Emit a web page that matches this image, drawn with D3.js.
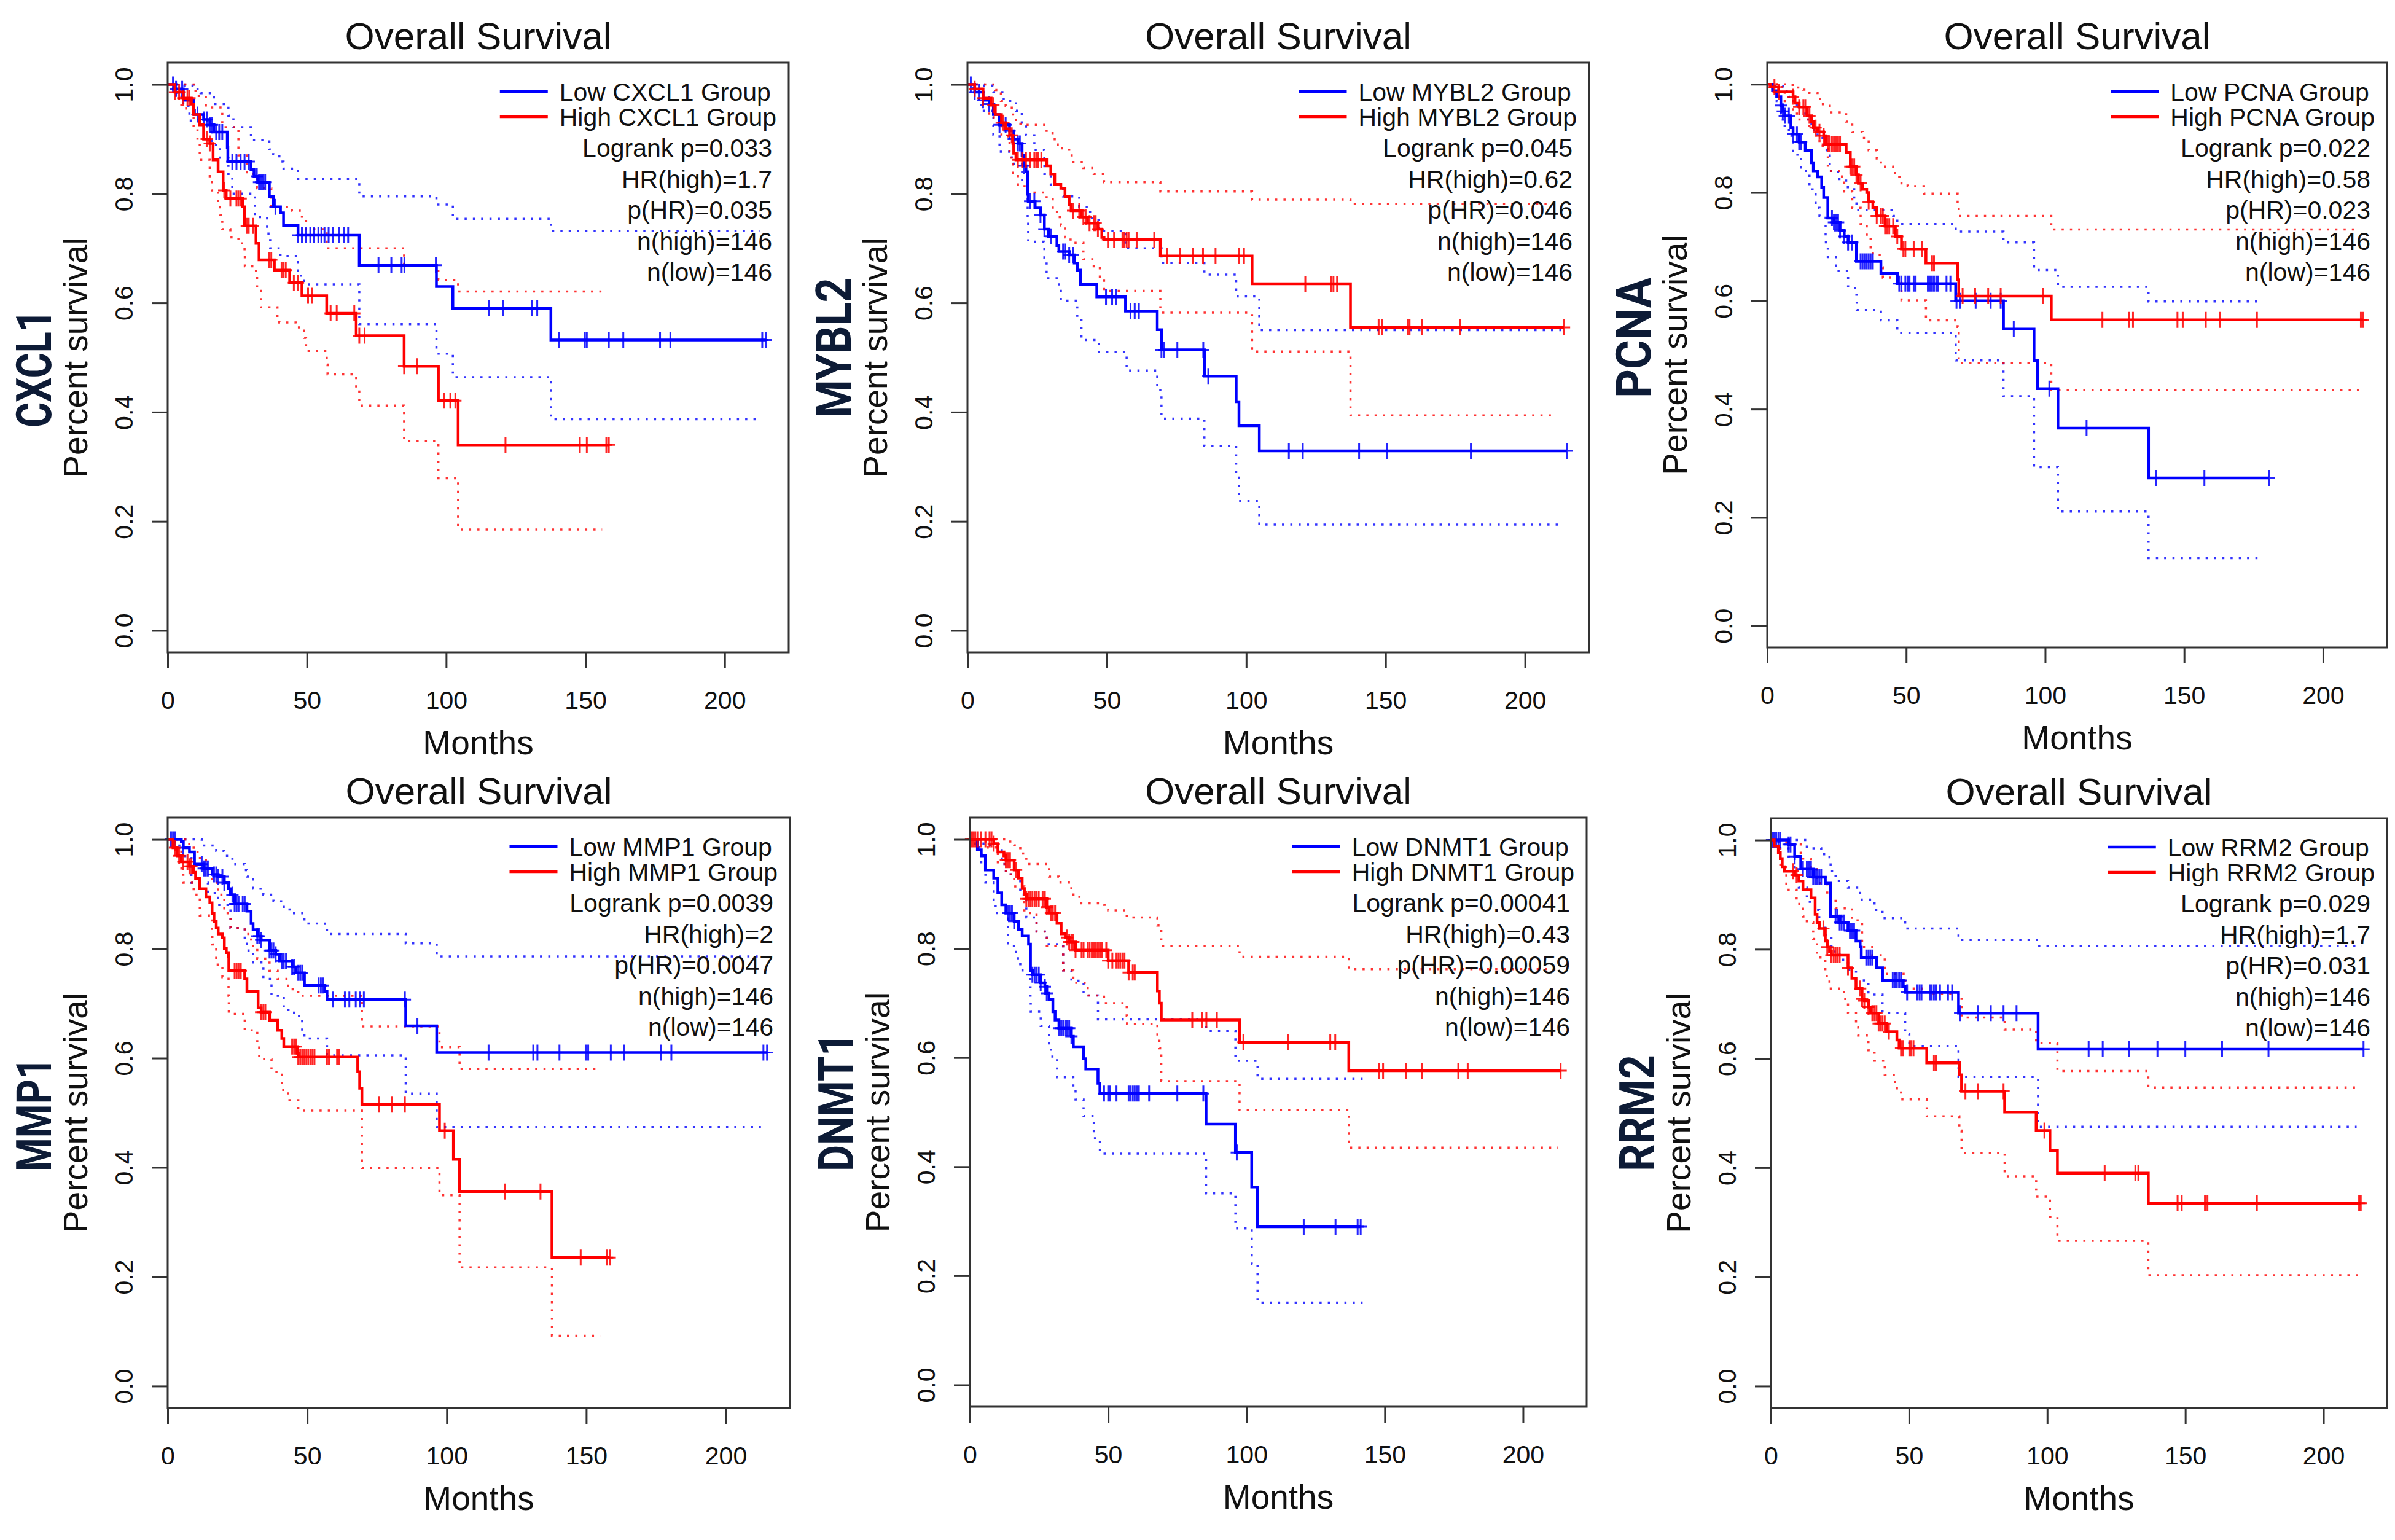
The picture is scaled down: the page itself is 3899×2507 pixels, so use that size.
<!DOCTYPE html>
<html>
  <head>
    <title>Overall Survival</title>
    <meta charset="utf-8">
    <style>
      body { margin: 0; background-color: #fff; }
      svg text { font-family: "Liberation Sans", Arial, Helvetica, sans-serif; fill: #111; }
      .gene { font-family: Roboto, "Liberation Sans", sans-serif; font-weight: 700; fill: #0d1b36; }
    </style>
    <script src="https://cdn.jsdelivr.net/npm/d3@7"></script>
  </head>
  <body>
    <svg id="chart" width="3899" height="2507"></svg>
    <script>
      // axis ticks
      var monthTicks = [0, 50, 100, 150, 200];
      var survivalTicks = [0, 0.2, 0.4, 0.6, 0.8, 1.0];

      // genes and stats text
      var genes = ["CXCL1", "MYBL2", "PCNA", "MMP1", "DNMT1", "RRM2"];
      var logrankP = ["0.033", "0.045", "0.022", "0.0039", "0.00041", "0.029"];
      var hrHigh = ["1.7", "0.62", "0.58", "2", "0.43", "1.7"];
      var pHR = ["0.035", "0.046", "0.023", "0.0047", "0.00059", "0.031"];
      var nHigh = [146, 146, 146, 146, 146, 146];
      var nLow = [146, 146, 146, 146, 146, 146];

      // [month, survival] steps, censor months, CI upper/lower steps
      var cxcl1LowSurv = [[0,1],[2.5,0.992],[5.6,0.971],[9.3,0.952],[9.6,0.945],[12.9,0.936],[15.1,0.926],[16.6,0.913],[21.4,0.885],[21.6,0.859],[29.9,0.844],[31,0.832],[32.5,0.821],[36.5,0.795],[37.9,0.776],[40.5,0.765],[41.6,0.742],[46.8,0.724],[68.8,0.669],[96.5,0.63],[102.4,0.59],[137.6,0.532]];
      var cxcl1LowCens = [1.9,3,5.2,10.7,12.9,14,15.1,15.9,17.4,18.5,19.6,23.2,24.7,26.2,27.6,29.1,32,32.8,33.5,34.3,35,38.7,46.8,48.2,49.7,51.2,52.6,54.1,55.2,56.3,57.8,59.3,61.5,63.3,64.8,75.7,80.3,84,85,96.3,115.3,120.4,130.9,132.7,140.4,149.8,150.5,158.4,163.6,176.8,180.5,213.5,214.8];
      var cxcl1LowUp = [[0,1],[6,0.998],[9.3,0.992],[11.8,0.984],[16.6,0.964],[21.8,0.943],[23.6,0.922],[29.9,0.898],[36.5,0.881],[37.9,0.872],[40.1,0.859],[41.6,0.846],[46.8,0.827],[68.8,0.795],[96.5,0.78],[102.4,0.754],[137.6,0.732],[212.6,0.732]];
      var cxcl1LowLo = [[0,1],[3.4,0.982],[5.6,0.96],[7.8,0.934],[15.9,0.889],[18.8,0.866],[21.8,0.836],[23.2,0.8],[31.3,0.757],[35.7,0.727],[36.8,0.7],[40.5,0.686],[46.8,0.65],[49,0.634],[68.8,0.561],[96.5,0.507],[102.4,0.464],[137.6,0.387],[212.6,0.387]];
      var cxcl1HighSurv = [[0,1],[2.6,0.986],[5.6,0.975],[8.5,0.964],[9.3,0.945],[11.5,0.926],[12.9,0.9],[15.1,0.892],[16.3,0.862],[18.1,0.84],[19.9,0.806],[21,0.791],[26.9,0.776],[27.6,0.741],[31.7,0.709],[32.8,0.679],[38.3,0.66],[43.8,0.637],[48.2,0.613],[57.1,0.581],[67.7,0.54],[84.9,0.484],[97.2,0.421],[104.3,0.34]];
      var cxcl1HighCens = [2.6,4.1,5.6,7.1,7.8,14,15.1,20.3,22.5,24.7,25.4,26.2,28.4,29.1,30.6,36.5,37.2,40.9,41.6,42.4,45.3,46.8,50.4,51.9,58.5,60.7,67,68.8,70.7,84.9,89.5,99.3,101.5,103.3,121.3,148,150.5,157.5,158.4];
      var cxcl1HighUp = [[0,1],[5.6,1],[10,0.979],[13.7,0.958],[19.6,0.922],[25.4,0.87],[28.4,0.836],[32,0.81],[37.2,0.776],[44.6,0.769],[48.2,0.75],[49.7,0.735],[57.1,0.7],[84.9,0.669],[97.2,0.642],[104.3,0.621],[156,0.621]];
      var cxcl1HighLo = [[0,1],[1.9,0.99],[4.9,0.956],[9.3,0.919],[10.7,0.896],[11.5,0.862],[15.1,0.832],[15.9,0.806],[18.1,0.78],[18.8,0.761],[19.6,0.735],[22.5,0.72],[25.4,0.709],[27.6,0.69],[27.7,0.667],[31.7,0.656],[32.1,0.626],[33.5,0.592],[39.4,0.574],[40.1,0.564],[46,0.555],[49,0.536],[49.7,0.512],[57.1,0.487],[57.4,0.469],[67.7,0.44],[68.8,0.412],[84.9,0.347],[97.2,0.279],[104.3,0.185],[156,0.185]];

      var mybl2LowSurv = [[0,1],[2.6,0.986],[5.6,0.971],[7.8,0.964],[9.3,0.945],[11.5,0.926],[15.1,0.915],[16.6,0.9],[18.1,0.892],[19.6,0.87],[20.3,0.851],[21,0.84],[21.6,0.799],[21.8,0.786],[24.3,0.774],[26.2,0.761],[27.6,0.735],[29.1,0.722],[32.1,0.705],[32.8,0.694],[36.5,0.688],[38.3,0.673],[39.4,0.66],[40.5,0.634],[46.4,0.611],[56.7,0.585],[68.1,0.551],[69.6,0.514],[85,0.466],[96.4,0.419],[97.4,0.375],[104.7,0.329]];
      var mybl2LowCens = [1.2,2.6,4.1,5.6,7.8,11.5,13.7,15.1,16.6,18.1,18.8,20.3,22.5,24,26.2,27.6,29.9,34.3,35,36.5,37.9,49.7,51.9,53.4,58.5,60,61.5,69.6,70.6,75.3,84.6,86.4,115.3,120.3,140.5,150.6,180.6,215];
      var mybl2LowUp = [[0,1],[6,0.998],[9.3,0.986],[13,0.97],[17.4,0.952],[19.5,0.93],[21,0.907],[24,0.88],[27.6,0.836],[29.9,0.817],[34.3,0.795],[40.1,0.776],[44,0.755],[47,0.732],[56.7,0.7],[69.6,0.673],[85,0.652],[96.4,0.612],[104.7,0.55],[213,0.55]];
      var mybl2LowLo = [[0,1],[2,0.99],[4.1,0.971],[4.9,0.952],[9.3,0.907],[11.5,0.877],[15.9,0.855],[19.6,0.825],[21.6,0.757],[21.8,0.712],[27.6,0.682],[28.4,0.645],[32.8,0.622],[33.5,0.604],[39.4,0.574],[40.9,0.532],[47.1,0.51],[57.1,0.476],[68.1,0.44],[69.6,0.388],[85,0.338],[96.4,0.28],[97.4,0.237],[104.7,0.194],[213,0.194]];
      var mybl2HighSurv = [[0,1],[2.6,0.992],[5.6,0.975],[8.5,0.962],[10,0.945],[12.2,0.93],[13.7,0.919],[15.1,0.907],[16.3,0.892],[16.6,0.874],[17.4,0.862],[28.4,0.851],[29.9,0.836],[31.3,0.817],[33.5,0.81],[35,0.795],[36.5,0.78],[37.2,0.769],[40.9,0.757],[43.1,0.746],[46.8,0.735],[48.2,0.72],[49,0.716],[69.2,0.686],[102.1,0.635],[137.4,0.555]];
      var mybl2HighCens = [2.6,5.6,9.3,12.9,15.9,18.1,19.6,21,22.5,24,24.7,25.4,26.5,37.9,40.1,41.6,42.4,43.8,45.3,46,46.8,50.4,52.6,55.6,56.3,57.1,57.8,60.7,67,71.7,76.3,80.8,84.5,89,97.3,99.2,121.2,130.4,131.3,132.6,147.5,148.8,158,158.6,163.1,176.7,214];
      var mybl2HighUp = [[0,1],[8,1],[10,0.99],[12,0.97],[13.7,0.96],[15.9,0.945],[17.4,0.935],[19,0.926],[28.4,0.911],[31.3,0.89],[33.5,0.883],[36.5,0.87],[38,0.858],[41.6,0.847],[45.3,0.836],[49,0.821],[69.2,0.804],[102.1,0.789],[137.4,0.781],[211,0.781]];
      var mybl2HighLo = [[0,1],[2.6,0.986],[5.6,0.971],[7.8,0.94],[10,0.93],[12.2,0.905],[15.1,0.866],[16.3,0.836],[18.1,0.814],[21.8,0.802],[28.4,0.79],[30.6,0.772],[32.1,0.757],[33.5,0.742],[35,0.72],[37,0.71],[41.6,0.68],[45.3,0.667],[47.5,0.645],[49,0.622],[69.2,0.582],[102.1,0.511],[137.4,0.394],[211,0.394]];

      var pcnaLowSurv = [[0,1],[1.9,0.988],[3.4,0.977],[4.9,0.961],[5.6,0.95],[6.3,0.942],[8.5,0.92],[9.3,0.908],[11.5,0.893],[13.7,0.878],[15.9,0.855],[16.6,0.84],[18.1,0.829],[19.6,0.81],[20.3,0.791],[21.8,0.753],[24,0.745],[26.2,0.73],[27.7,0.719],[29.1,0.708],[32.1,0.673],[40.9,0.651],[46.8,0.632],[67.8,0.6],[85,0.548],[96,0.49],[97.3,0.438],[104.6,0.365],[137.2,0.273]];
      var pcnaLowCens = [4.9,5.6,6.3,7.8,9.3,10.7,11.5,12.2,23.3,24,24.7,25.5,26.2,27.7,29.1,30.6,33.6,34.3,35,35.8,36.5,37.2,38,47.5,48.3,49.7,50.5,51.2,52.7,53.4,57.8,58.6,59.3,60,60.8,61.5,64.5,65.9,68.1,69.5,75,80.4,84,88.7,101.5,114.9,140,157.3,180.5];
      var pcnaLowUp = [[0,1],[2.6,0.997],[5.6,0.988],[7.8,0.977],[9.3,0.969],[10.7,0.958],[13.7,0.935],[15.9,0.916],[18.1,0.901],[20.3,0.878],[22.5,0.84],[25.5,0.825],[28.4,0.81],[31.3,0.78],[32.1,0.768],[45.3,0.757],[46.8,0.742],[67.8,0.728],[85,0.708],[96,0.657],[104.6,0.626],[137.2,0.599],[178,0.599]];
      var pcnaLowLo = [[0,1],[1.9,0.984],[3.4,0.969],[4.9,0.946],[5.6,0.923],[7.8,0.905],[9.3,0.87],[12.2,0.84],[15.2,0.806],[17.4,0.772],[18.8,0.757],[21,0.719],[21.1,0.704],[21.8,0.681],[24.7,0.655],[29.1,0.624],[32.1,0.609],[32.2,0.583],[40.9,0.564],[46.8,0.541],[67.8,0.49],[85,0.424],[96,0.293],[104.6,0.211],[137.2,0.125],[178,0.125]];
      var pcnaHighSurv = [[0,1],[1.2,0.995],[4.1,0.986],[9.3,0.977],[10,0.965],[11.5,0.958],[14.4,0.942],[15.9,0.931],[16.6,0.92],[18.1,0.912],[20.3,0.905],[21,0.889],[28.4,0.874],[29.9,0.848],[32.1,0.833],[32.8,0.817],[34.3,0.806],[35.8,0.8],[36.5,0.783],[38,0.772],[39.4,0.757],[42.4,0.738],[46.1,0.719],[48.3,0.696],[57.1,0.67],[68.5,0.639],[68.9,0.609],[102.2,0.565]];
      var pcnaHighCens = [2.6,4.1,9.3,11.5,13,13.7,15.2,17.4,18.8,20.3,21.8,22.5,23.3,24,24.7,25.5,26.2,29.9,30.6,31.3,32.1,33.6,36.5,39.4,40.9,41.6,42.4,43.1,43.9,45.3,46.8,49,49.7,52.7,55.6,59.3,60,70.3,74.8,79.5,84,99.3,120.6,130.2,131.6,147.6,149.5,157.8,162.9,176.2,213.6,214.3];
      var pcnaHighUp = [[0,1],[8.5,0.999],[10.7,0.994],[13,0.99],[15.2,0.984],[18.1,0.973],[19.6,0.963],[22.5,0.948],[28.4,0.931],[30.6,0.912],[34.3,0.901],[36.5,0.878],[39.4,0.863],[40.9,0.848],[45.3,0.836],[47.5,0.829],[48.3,0.817],[50.5,0.812],[56.4,0.798],[68.5,0.772],[68.9,0.757],[102.2,0.732],[213,0.732]];
      var pcnaHighLo = [[0,1],[3.4,0.995],[6.3,0.969],[9.3,0.95],[10.7,0.935],[15.2,0.916],[17.4,0.905],[18.8,0.886],[21.8,0.84],[26.9,0.821],[27.7,0.802],[30.6,0.772],[33.6,0.742],[35.8,0.719],[37.2,0.692],[38,0.685],[40.9,0.662],[41.6,0.643],[48.3,0.601],[57.1,0.564],[68.5,0.552],[68.9,0.485],[102.2,0.435],[213,0.435]];

      var mmp1LowSurv = [[0,1],[4.9,0.996],[5.6,0.985],[7.8,0.977],[9.6,0.955],[12.9,0.947],[15.9,0.936],[18.1,0.932],[20.3,0.921],[21.8,0.91],[22.5,0.899],[24,0.882],[28.4,0.869],[29.9,0.846],[30.6,0.835],[32.1,0.823],[33.5,0.816],[36.5,0.797],[38.7,0.79],[40.1,0.778],[44.6,0.767],[46,0.756],[49,0.733],[56.3,0.722],[57.1,0.707],[85.3,0.659],[96.4,0.61]];
      var mmp1LowCens = [1.2,1.9,2.6,5.6,12.2,12.9,13.7,14.4,16.6,17.4,18.1,19.6,20.3,23.2,24,24.7,25.4,26.9,27.6,32.1,32.8,33.5,36.5,37.2,37.9,38.7,40.9,41.6,42.4,44.6,45.3,46.8,47.5,48.2,54.1,54.9,55.6,59.2,63.5,65.1,67.4,68.8,70.3,85,89.5,115,131,132.5,140.4,149.8,150.7,158.8,163.6,176.8,180.5,213.5,214.8];
      var mmp1LowUp = [[0,1],[9.3,1],[12.2,0.989],[17.4,0.979],[20.3,0.97],[23.2,0.955],[27.6,0.944],[28.4,0.932],[30.6,0.91],[34.3,0.899],[37.9,0.887],[41.6,0.872],[45.3,0.865],[49,0.846],[56.3,0.842],[57.1,0.827],[85.3,0.81],[96.4,0.786],[212.6,0.786]];
      var mmp1LowLo = [[0,1],[2.6,0.989],[6.3,0.966],[8.5,0.921],[14.4,0.902],[18.1,0.88],[22.5,0.838],[27.6,0.812],[28.4,0.797],[30.6,0.775],[34.3,0.745],[37.2,0.714],[41.6,0.688],[45.3,0.677],[48.2,0.65],[49,0.636],[57.1,0.605],[85.3,0.535],[96.4,0.474],[212.6,0.474]];
      var mmp1HighSurv = [[0,1],[1.9,0.985],[3.4,0.97],[4.9,0.959],[7.8,0.951],[9.3,0.94],[10,0.929],[11.5,0.91],[13.7,0.895],[15.1,0.884],[15.9,0.865],[16.6,0.85],[17.4,0.838],[18.1,0.827],[19.6,0.82],[20.3,0.801],[21,0.793],[21.8,0.786],[21.9,0.76],[27.6,0.745],[28.4,0.722],[32.4,0.692],[33.5,0.684],[36.5,0.669],[39.4,0.651],[40.9,0.636],[41.6,0.621],[46.4,0.609],[46.8,0.602],[68.1,0.575],[68.8,0.545],[69.6,0.515],[97.4,0.467],[102.4,0.415],[104.6,0.356],[137.7,0.235]];
      var mmp1HighCens = [2.6,4.1,5.6,7.1,7.8,8.5,24,24.7,25.4,26.2,33.5,34.3,35,44.6,45.3,46,46.8,47.5,48.2,49,49.7,50.4,51.2,51.9,52.6,57.1,57.8,60.7,61.5,75.7,80.3,85,99.3,120.8,133.6,148,157.5,158.4];
      var mmp1HighUp = [[0,1],[4.1,1],[6.3,0.992],[9.3,0.981],[10.7,0.966],[13.7,0.944],[15.9,0.921],[18.1,0.899],[20.3,0.865],[22.5,0.838],[27.6,0.827],[29.9,0.805],[32.1,0.782],[36.5,0.76],[39.4,0.745],[43.1,0.726],[46.8,0.714],[69.6,0.658],[97.4,0.62],[104.6,0.58],[155,0.58]];
      var mmp1HighLo = [[0,1],[2.6,0.981],[4.9,0.947],[5.6,0.921],[9.3,0.899],[11.5,0.861],[15.9,0.827],[16,0.808],[17.4,0.771],[19.6,0.748],[21.8,0.714],[21.9,0.681],[27.6,0.651],[32.1,0.624],[32.8,0.598],[37.2,0.575],[40.9,0.542],[43.1,0.523],[46.8,0.504],[69.6,0.399],[97.4,0.349],[104.6,0.217],[137.7,0.092],[155,0.092]];

      var dnmt1LowSurv = [[0,1],[2.7,0.981],[4.1,0.97],[5.6,0.944],[8.6,0.929],[10.1,0.902],[11.5,0.88],[13,0.865],[16,0.85],[17.5,0.835],[18.9,0.823],[21.2,0.808],[21.9,0.76],[22.6,0.752],[25.6,0.737],[27.1,0.73],[27.8,0.718],[28.6,0.707],[30,0.684],[30.8,0.669],[32.2,0.654],[36.7,0.639],[37.4,0.62],[41.1,0.598],[41.9,0.579],[46.3,0.553],[47,0.534],[85.4,0.478],[96,0.426],[101.9,0.363],[104,0.29]];
      var dnmt1LowCens = [13.8,14.5,15.2,16,22.6,23.4,24.1,24.9,25.6,27.1,27.8,32.2,33,33.7,34.5,35.2,35.9,36.7,48.5,50,50.7,53,57.4,58.1,58.9,59.6,60.4,61.1,64.8,75,84.4,96.5,120.7,132.2,140.2,141.3];
      var dnmt1LowUp = [[0,1],[4.9,0.989],[11.5,0.955],[13,0.936],[18.2,0.899],[20.4,0.857],[24.1,0.831],[27.1,0.82],[27.8,0.808],[33.7,0.76],[36.7,0.741],[41.1,0.714],[46.3,0.67],[85.4,0.649],[96,0.594],[104,0.561],[142,0.561]];
      var dnmt1LowLo = [[0,1],[1.9,0.985],[4.1,0.951],[5.6,0.921],[8.6,0.887],[9.3,0.865],[13.8,0.805],[16.7,0.782],[18.2,0.76],[21.9,0.707],[22,0.684],[25.6,0.658],[28.6,0.624],[29.3,0.602],[31.5,0.564],[37.4,0.542],[38.2,0.523],[41.1,0.493],[44.8,0.452],[47,0.424],[85.4,0.351],[96,0.287],[101.9,0.222],[104,0.151],[142,0.151]];
      var dnmt1HighSurv = [[0,1],[8.6,0.992],[10.1,0.977],[12.3,0.97],[13,0.962],[16,0.944],[17.5,0.929],[18.9,0.91],[19.7,0.899],[20.4,0.891],[27.8,0.876],[28.6,0.865],[31.5,0.846],[33,0.827],[34.5,0.82],[35.9,0.812],[38.2,0.797],[50,0.778],[57.4,0.756],[67.8,0.722],[68.5,0.7],[69.2,0.669],[97.5,0.628],[137,0.576]];
      var dnmt1HighCens = [0.4,1.2,1.9,2.7,4.1,5.6,7.1,7.8,8.6,13,13.8,14.5,16.7,20.4,21.2,21.9,22.6,23.4,24.1,24.9,26.3,27.1,27.8,29.3,30,30.8,35.2,35.9,36.7,37.4,38.2,40.4,41.1,42.6,43.3,44.1,44.8,45.6,46.3,47,47.8,49.3,50,51.5,53,53.7,54.4,55.2,55.9,57.4,58.9,59.6,80.4,84,85.5,89.3,98.9,115,130.3,132.1,147.9,149.4,157.7,163.4,176.6,180,213.6];
      var dnmt1HighUp = [[0,1],[13.8,0.996],[16,0.989],[18.2,0.974],[20.4,0.955],[28.6,0.932],[32.2,0.921],[36.7,0.899],[39.6,0.883],[48.5,0.88],[50,0.87],[56.7,0.857],[67.8,0.842],[69.2,0.805],[97.5,0.785],[137,0.762],[212.6,0.762]];
      var dnmt1HighLo = [[0,1],[1.2,0.996],[5.6,0.985],[10.1,0.955],[13,0.936],[16,0.914],[19.7,0.865],[24.1,0.831],[27.8,0.805],[33.7,0.76],[37.4,0.737],[42.6,0.714],[48.5,0.7],[56.7,0.677],[56.8,0.662],[67.8,0.639],[68.5,0.617],[69.2,0.557],[97.5,0.504],[137,0.435],[212.6,0.435]];

      var rrm2LowSurv = [[0,1],[6.4,0.992],[8.6,0.97],[10.8,0.947],[15.3,0.932],[19.7,0.921],[21.6,0.86],[24.9,0.849],[27.9,0.834],[30.8,0.815],[32.3,0.804],[32.7,0.785],[38.2,0.766],[40.4,0.743],[47.9,0.732],[48.6,0.721],[67.9,0.683],[96.7,0.617]];
      var rrm2LowCens = [0.4,1.2,1.9,2.7,3.4,6.4,7.1,8.6,11.6,13,13.8,14.5,15.3,16,16.7,17.5,18.2,23.4,24.1,24.9,25.6,26.4,28.6,29.3,30.1,34.5,35.3,36,36.7,44.1,44.9,45.6,46.4,47.1,49.3,53,53.8,54.5,57.5,58.2,59,59.7,61.2,64.1,65.6,68.5,75,79.6,84.2,88.9,115,120.1,129.7,139.9,150,163.3,180.1,214.5];
      var rrm2LowUp = [[0,1],[7.9,1],[13,0.985],[18.2,0.974],[21.2,0.958],[21.6,0.943],[23.4,0.925],[27.9,0.913],[32.3,0.891],[37.5,0.872],[40.4,0.857],[47.9,0.849],[48.6,0.838],[67.9,0.817],[96.7,0.806],[213.8,0.806]];
      var rrm2LowLo = [[0,1],[2.7,0.985],[6.4,0.966],[8.6,0.936],[10.1,0.913],[13,0.887],[16,0.872],[17.5,0.845],[19.7,0.826],[21.9,0.796],[24.9,0.781],[27.9,0.762],[30.8,0.743],[35.3,0.717],[40.4,0.683],[48.6,0.645],[50.1,0.623],[67.9,0.566],[96.7,0.475],[212,0.475]];
      var rrm2HighSurv = [[0,1],[1.2,0.989],[2.7,0.977],[3.4,0.966],[4.1,0.951],[4.9,0.943],[8.6,0.936],[10.1,0.925],[11.6,0.909],[14.5,0.894],[16,0.864],[16.7,0.849],[17.5,0.838],[19.7,0.815],[20.4,0.804],[21.2,0.796],[21.9,0.789],[27.9,0.766],[29.3,0.747],[30.8,0.728],[33,0.709],[33.8,0.706],[35.3,0.694],[36,0.683],[39,0.664],[41.9,0.649],[45.6,0.634],[46.4,0.619],[56.4,0.592],[68.2,0.57],[69,0.54],[84.6,0.502],[96,0.468],[101,0.431],[103.7,0.39],[136.6,0.335]];
      var rrm2HighCens = [7.9,9.3,19,20.4,21.9,22.7,23.4,24.1,24.9,27.9,32.3,33,33.8,35.3,36.7,37.5,38.2,39,39.7,40.4,41.2,42.7,47.1,47.9,50.1,50.8,51.6,59,59.7,70.4,75,84.2,99,120.8,131.9,133,147.2,148.7,157.1,158,175.9,212.9,213.5];
      var rrm2HighUp = [[0,1],[2.7,1],[5.6,0.992],[10.8,0.966],[14.5,0.947],[16.7,0.921],[20.4,0.894],[23.4,0.875],[29.3,0.853],[33,0.804],[36.7,0.789],[41.2,0.755],[48.6,0.728],[56.4,0.719],[69,0.675],[84.6,0.653],[96,0.628],[103.7,0.577],[136.6,0.547],[212.6,0.547]];
      var rrm2HighLo = [[0,1],[1.2,0.985],[3.4,0.955],[5.6,0.909],[9.3,0.883],[11.6,0.86],[13,0.849],[15.3,0.819],[16.7,0.785],[19.7,0.751],[21.2,0.728],[26.4,0.709],[27.9,0.683],[30.8,0.657],[31.6,0.642],[35.3,0.615],[37.5,0.596],[41.2,0.57],[44.9,0.555],[45.6,0.543],[47.1,0.525],[56.4,0.494],[68.2,0.468],[69,0.427],[84.6,0.384],[96,0.347],[101,0.31],[103.7,0.266],[136.6,0.203],[213,0.203]];

      // per-gene table: [low surv, low censor, low up, low lo, high surv, high censor, high up, high lo]
      var curves = [
        [cxcl1LowSurv, cxcl1LowCens, cxcl1LowUp, cxcl1LowLo, cxcl1HighSurv, cxcl1HighCens, cxcl1HighUp, cxcl1HighLo],
        [mybl2LowSurv, mybl2LowCens, mybl2LowUp, mybl2LowLo, mybl2HighSurv, mybl2HighCens, mybl2HighUp, mybl2HighLo],
        [pcnaLowSurv, pcnaLowCens, pcnaLowUp, pcnaLowLo, pcnaHighSurv, pcnaHighCens, pcnaHighUp, pcnaHighLo],
        [mmp1LowSurv, mmp1LowCens, mmp1LowUp, mmp1LowLo, mmp1HighSurv, mmp1HighCens, mmp1HighUp, mmp1HighLo],
        [dnmt1LowSurv, dnmt1LowCens, dnmt1LowUp, dnmt1LowLo, dnmt1HighSurv, dnmt1HighCens, dnmt1HighUp, dnmt1HighLo],
        [rrm2LowSurv, rrm2LowCens, rrm2LowUp, rrm2LowLo, rrm2HighSurv, rrm2HighCens, rrm2HighUp, rrm2HighLo]
      ];

      // layout of each plot box: left, top, width, height; gene label bottom and length
      var boxes = [
        [273, 102, 1011, 960], [1575, 102, 1012, 960], [2877, 102, 1009, 952],
        [273, 1331, 1013, 961], [1579, 1331, 1004, 959], [2883, 1332, 1003, 960]
      ];
      var labelBottom = [696, 680, 648, 1907, 1907, 1907];
      var labelLength = [192, 228, 196, 186, 226, 190];

      var BLUE = "#0000ff", RED = "#ff0000", INK = "#333";
      var svg = d3.select("#chart");

      function survAt(steps, t) {
        var s = steps[0][1];
        for (var k = 0; k < steps.length; k++) { if (steps[k][0] <= t) s = steps[k][1]; else break; }
        return s;
      }

      boxes.forEach(function(b, i) {
        var left = b[0], top = b[1], w = b[2], h = b[3], right = left + w;
        var x = d3.scaleLinear().domain([0, 223]).range([left, right]);
        var y = d3.scaleLinear().domain([-0.04, 1.04]).range([top + h, top]);
        var line = d3.line().x(function(d) { return x(d[0]); }).y(function(d) { return y(d[1]); }).curve(d3.curveStepAfter);
        var g = svg.append("g");
        var c = curves[i];
        var groups = [
          { surv: c[0], cens: c[1], up: c[2], lo: c[3], color: BLUE },
          { surv: c[4], cens: c[5], up: c[6], lo: c[7], color: RED }
        ];

        // confidence bands (dotted)
        groups.forEach(function(gr) {
          [gr.up, gr.lo].forEach(function(ci) {
            g.append("path").datum(ci).attr("d", line)
              .attr("fill", "none").attr("stroke", gr.color).attr("stroke-width", 3.5)
              .attr("stroke-dasharray", "3.5 10").attr("opacity", 0.8);
          });
        });

        // KM curves + censor marks
        groups.forEach(function(gr) {
          var end = d3.max(gr.cens);
          var pts = gr.surv.concat([[end, gr.surv[gr.surv.length - 1][1]]]);
          g.append("path").datum(pts).attr("d", line)
            .attr("fill", "none").attr("stroke", gr.color).attr("stroke-width", 4.5);
          g.append("g").selectAll("path").data(gr.cens).join("path")
            .attr("d", function(t) {
              var px = x(t), py = y(survAt(gr.surv, t));
              return "M" + (px - 10) + "," + py + "h20M" + px + "," + (py - 13) + "v26";
            })
            .attr("stroke", gr.color).attr("stroke-width", 3).attr("opacity", 0.85);
        });

        // axes
        var ax = g.append("g").attr("transform", "translate(0," + (top + h) + ")")
          .call(d3.axisBottom(x).tickValues(monthTicks).tickSize(26).tickSizeOuter(0));
        ax.select(".domain").remove();
        ax.attr("font-size", 41).attr("font-family", null);
        ax.selectAll(".tick line").attr("stroke", INK).attr("stroke-width", 3);
        ax.selectAll(".tick text").attr("y", 92).attr("dy", null);

        var ay = g.append("g").attr("transform", "translate(" + left + ",0)")
          .call(d3.axisLeft(y).tickValues(survivalTicks).tickFormat(d3.format(".1f")).tickSize(26).tickSizeOuter(0));
        ay.select(".domain").remove();
        ay.attr("font-size", 41).attr("font-family", null);
        ay.selectAll(".tick line").attr("stroke", INK).attr("stroke-width", 3);
        ay.selectAll(".tick text").attr("x", null).attr("dy", null)
          .attr("text-anchor", "middle").attr("transform", "translate(-57,0) rotate(-90)");

        // frame
        g.append("rect").attr("x", left).attr("y", top).attr("width", w).attr("height", h)
          .attr("fill", "none").attr("stroke", INK).attr("stroke-width", 3);

        // titles
        g.append("text").attr("x", left + w / 2).attr("y", top - 22).attr("text-anchor", "middle")
          .attr("font-size", 62).text("Overall Survival");
        g.append("text").attr("x", left + w / 2).attr("y", top + h + 166).attr("text-anchor", "middle")
          .attr("font-size", 55).text("Months");
        g.append("text").attr("transform", "translate(" + (left - 131) + "," + (top + h / 2) + ") rotate(-90)")
          .attr("text-anchor", "middle").attr("font-size", 55).text("Percent survival");
        g.append("text").attr("class", "gene")
          .attr("transform", "translate(" + (left - 190) + "," + labelBottom[i] + ") rotate(-90)")
          .attr("font-size", 80).attr("textLength", labelLength[i]).attr("lengthAdjust", "spacingAndGlyphs")
          .text(genes[i]);

        // legend
        var labels = ["Low " + genes[i] + " Group", "High " + genes[i] + " Group"];
        var lt = labels.map(function(s, k) {
          return g.append("text").attr("y", top + 62 + 41 * k).attr("font-size", 41).text(s);
        });
        var maxW = d3.max(lt, function(t) { return t.node().getComputedTextLength(); });
        var tx = right - 20 - maxW;
        lt.forEach(function(t, k) {
          t.attr("x", tx);
          g.append("line").attr("x1", tx - 97).attr("x2", tx - 19)
            .attr("y1", top + 47 + 41 * k).attr("y2", top + 47 + 41 * k)
            .attr("stroke", k ? RED : BLUE).attr("stroke-width", 4.5);
        });
        var stats = ["Logrank p=" + logrankP[i], "HR(high)=" + hrHigh[i], "p(HR)=" + pHR[i],
                     "n(high)=" + nHigh[i], "n(low)=" + nLow[i]];
        stats.forEach(function(s, k) {
          g.append("text").attr("x", right - 27).attr("y", top + 153 + 50.5 * k)
            .attr("text-anchor", "end").attr("font-size", 41).text(s);
        });
      });
    </script>
  </body>
</html>
